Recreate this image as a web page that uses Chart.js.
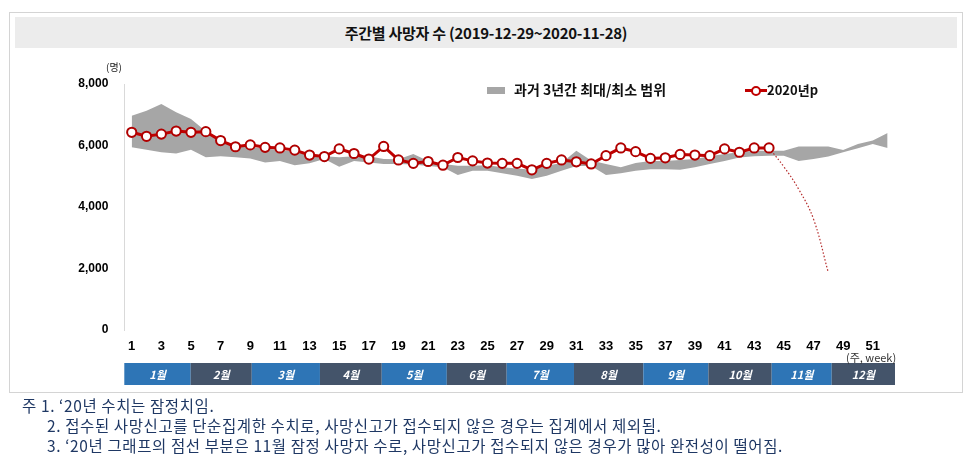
<!DOCTYPE html>
<html>
<head>
<meta charset="utf-8">
<script src="https://cdn.jsdelivr.net/npm/chart.js@4.4.1/dist/chart.umd.min.js"></script>
<style>
  html, body { margin:0; padding:0; background:#fff; }
  body { width:970px; height:471px; position:relative; overflow:hidden; font-family:"Noto Sans CJK KR","Noto Sans",sans-serif; }
  #frame { position:absolute; left:9px; top:12px; width:952px; height:379px; border:1px solid #d4d4d4; }
  #titlebar { position:absolute; left:15px; top:17px; width:942px; height:31px; background:#ececec; }
  #title { position:absolute; left:15px; top:17px; width:942px; height:31px; line-height:31px; text-align:center; font-size:15px; font-weight:700; color:#111; letter-spacing:-0.25px; }
  #c { position:absolute; left:0; top:0; }
  .unit { position:absolute; left:106px; top:59px; font-size:10px; color:#222; }
  .leg { position:absolute; font-size:14px; font-weight:700; color:#111; white-space:nowrap; }
  .weekunit { position:absolute; left:846px; top:349px; font-size:11px; color:#333; white-space:nowrap; }
  .notes { position:absolute; left:22px; top:395px; font-size:15.5px; color:#1f3864; line-height:20px; white-space:nowrap; letter-spacing:0.6px; }
  .notes div.ind { padding-left:25px; }
</style>
</head>
<body>
<div id="frame"></div>
<div id="titlebar"></div>
<div id="title">주간별 사망자 수 (2019-12-29~2020-11-28)</div>
<canvas id="c" width="970" height="471"></canvas>
<div class="unit">(명)</div>
<div class="leg" style="left:487px;top:79px;"><span style="display:inline-block;width:18px;height:7px;background:#a6a6a6;vertical-align:middle;margin-right:9px;position:relative;top:-1px;"></span>과거 3년간 최대/최소 범위</div>
<div class="leg" style="left:745px;top:80px;font-size:13px;"><span style="display:inline-block;width:22px;height:10px;vertical-align:middle;position:relative;top:-1px;"><span style="position:absolute;left:0;top:4px;width:22px;height:3px;background:#c00000;"></span><span style="position:absolute;left:6px;top:1px;width:6px;height:6px;border:2px solid #c00000;border-radius:50%;background:#fff;"></span></span>2020년p</div>
<div class="weekunit">(주, week)</div>
<div class="notes">
  <div>주 1. ‘20년 수치는 잠정치임.</div>
  <div class="ind">2. 접수된 사망신고를 단순집계한 수치로, 사망신고가 접수되지 않은 경우는 집계에서 제외됨.</div>
  <div class="ind">3. ‘20년 그래프의 점선 부분은 11월 잠정 사망자 수로, 사망신고가 접수되지 않은 경우가 많아 완전성이 떨어짐.</div>
</div>
<script>
// ---- data ----
const weekLabels = ['1','2','3','4','5','6','7','8','9','10','11','12','13','14','15','16','17','18','19','20','21','22','23','24','25','26','27','28','29','30','31','32','33','34','35','36','37','38','39','40','41','42','43','44','45','46','47','48','49','50','51','52'];
const deaths2020 = [6430,6300,6370,6470,6430,6450,6160,5960,6020,5940,5920,5850,5690,5640,5890,5740,5560,5970,5530,5420,5480,5360,5610,5500,5430,5420,5420,5210,5420,5530,5470,5400,5670,5920,5800,5580,5600,5710,5690,5670,5890,5780,5920,5920];
const provisionalStartWeek = 44;
const provisional2020 = [5920,5310,4580,3610,1870];
const past3yMax = [6970,7130,7350,7080,6860,6460,6150,6000,5950,5900,5850,5800,5700,5650,5620,5650,5650,5560,5550,5720,5500,5400,5340,5340,5360,5290,5250,5210,5340,5430,5830,5510,5400,5290,5430,5500,5500,5530,5560,5650,5720,5780,5830,5830,5830,5970,5970,5970,5850,6050,6160,6410];
const past3yMin = [5940,5860,5780,5740,5860,5620,5650,5620,5580,5450,5500,5360,5420,5560,5310,5500,5450,5400,5400,5380,5330,5290,5040,5180,5180,5100,5020,4910,5020,5180,5330,5330,5040,5100,5180,5230,5230,5210,5290,5400,5500,5610,5650,5670,5670,5500,5560,5640,5780,5910,6050,5920];
const monthNames = ['1월','2월','3월','4월','5월','6월','7월','8월','9월','10월','11월','12월'];
const monthEdgeWeeks = [0.5,4.98,9.1,13.7,17.87,22.26,26.3,30.84,35.52,39.91,44.18,48.23,52.5];
const yTicks = [0,2000,4000,6000,8000];

// ---- build series ----
const line2020 = weekLabels.map((_, i) => i < deaths2020.length ? deaths2020[i] : null);
const dotted2020 = weekLabels.map((_, i) => {
  const k = i - (provisionalStartWeek - 1);
  return (k >= 0 && k < provisional2020.length) ? provisional2020[k] : null;
});

const monthBar = {
  id: 'monthBar',
  afterDraw(chart) {
    const x = chart.scales.x;
    const ctx = chart.ctx;
    const top = 363, h = 22;
    ctx.save();
    for (let i = 0; i < monthNames.length; i++) {
      const x0 = x.getPixelForValue(monthEdgeWeeks[i] - 1);
      const x1 = x.getPixelForValue(monthEdgeWeeks[i + 1] - 1);
      ctx.fillStyle = (i % 2 === 0) ? '#2e75b6' : '#44546a';
      ctx.fillRect(x0, top, x1 - x0, h);
      ctx.fillStyle = '#ffffff';
      ctx.font = 'italic bold 11px "Noto Sans CJK KR", sans-serif';
      ctx.textAlign = 'center';
      ctx.textBaseline = 'middle';
      ctx.fillText(monthNames[i], (x0 + x1) / 2, top + h / 2 + 1);
    }
    ctx.restore();
  }
};

Chart.defaults.font.family = "'Liberation Sans', Arial, sans-serif";
Chart.defaults.color = '#000';

new Chart(document.getElementById('c'), {
  type: 'line',
  data: {
    labels: weekLabels,
    datasets: [
      { label: '과거 3년간 최대', data: past3yMax, borderWidth: 0, pointRadius: 0, fill: '+1', backgroundColor: '#a6a6a6', borderColor: '#a6a6a6', tension: 0, order: 3 },
      { label: '과거 3년간 최소', data: past3yMin, borderWidth: 0, pointRadius: 0, fill: false, borderColor: '#a6a6a6', tension: 0, order: 4 },
      { label: '2020년p 잠정', data: dotted2020, borderColor: '#b52a2a', borderWidth: 1.2, borderDash: [1.5, 2], pointRadius: 0, fill: false, tension: 0.4, order: 2 },
      { label: '2020년p', data: line2020, borderColor: '#c00000', borderWidth: 3, pointRadius: 4.6, pointBorderWidth: 2, pointBackgroundColor: '#ffffff', pointBorderColor: '#b00000', fill: false, tension: 0, order: 1 }
    ]
  },
  options: {
    responsive: false,
    animation: false,
    events: [],
    layout: { padding: { left: 0, right: 75, top: 84, bottom: 111 } },
    plugins: { legend: { display: false }, tooltip: { enabled: false } },
    scales: {
      x: {
        type: 'category',
        offset: true,
        grid: { display: false, drawTicks: false },
        border: { display: false },
        ticks: {
          autoSkip: false, maxRotation: 0, minRotation: 0, padding: 9,
          font: { size: 13, weight: 'bold' }, color: '#000',
          callback: (v, i) => (i % 2 === 0 ? weekLabels[i] : '')
        },
        afterFit: (s) => { s.height = 30; }
      },
      y: {
        min: 0, max: 8000,
        afterBuildTicks: (s) => { s.ticks = yTicks.map(v => ({ value: v })); },
        grid: { display: false, drawTicks: false },
        border: { display: true, color: '#d9d9d9', width: 1 },
        ticks: { padding: 16, font: { size: 12, weight: 'bold' }, color: '#000',
          callback: (v) => v.toLocaleString('en-US') },
        afterFit: (s) => { s.width = 124.3; }
      }
    }
  },
  plugins: [monthBar]
});
</script>
</body>
</html>
